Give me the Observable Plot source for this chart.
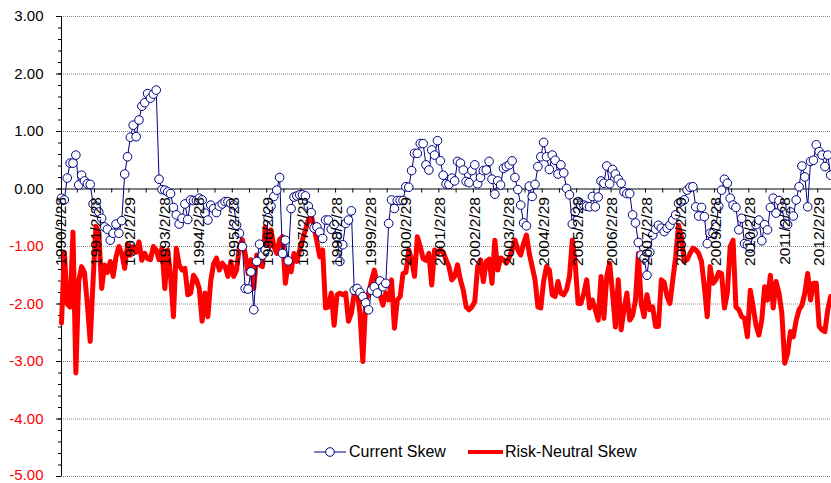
<!DOCTYPE html>
<html>
<head>
<meta charset="utf-8">
<script src="https://cdn.jsdelivr.net/npm/d3@7"></script>
<script src="https://cdn.jsdelivr.net/npm/@observablehq/plot@0.6"></script>
<style>
  html, body { margin: 0; padding: 0; background: #fff; }
  #wrap { position: relative; width: 831px; height: 483px; font-family: Arial, "Liberation Sans", sans-serif; }
  #wrap svg { display: block; }
  .lg { position: absolute; top: 442px; height: 19px; line-height: 19px; font-size: 16px; color: #000; white-space: nowrap; }
</style>
</head>
<body>
<div id="wrap"></div>
<script>
// Monthly observations, starting 1990/2/28
const currentSkew = [
  -0.16,-0.19,0.19,0.45,0.45,0.59,0.07,0.24,0.14,0.09,
  0.08,-0.26,-0.30,-0.40,-0.51,-0.66,-0.70,-0.89,-0.77,-0.61,
  -0.77,-0.55,0.26,0.56,0.90,1.11,0.91,1.20,1.44,1.50,
  1.66,1.58,1.65,1.72,0.17,-0.01,-0.02,-0.05,-0.08,-0.32,
  -0.45,-0.61,-0.51,-0.26,-0.53,-0.19,
  -0.20,-0.20,-0.16,-0.19,-0.42,-0.54,-0.28,-0.34,-0.41,-0.30,
  -0.26,-0.22,-0.22,-0.25,-0.28,-0.63,-0.77,-1.00,-1.73,-1.74,
  -1.44,-2.10,-1.26,-0.96,-1.15,-1.06,-0.50,-0.30,-0.13,-0.02,
  0.20,-1.12,-0.89,-1.25,-0.34,-0.14,-0.12,-0.10,-0.10,-0.12,
  -0.30,-0.41,-0.68,-0.66,
  -0.75,-0.86,-0.54,-0.54,-0.70,-0.62,-0.83,-1.26,-0.97,-0.60,
  -0.54,-0.38,-1.76,-1.73,-1.80,-1.87,-1.98,-2.10,-1.76,-1.70,
  -1.81,-1.60,-1.70,-1.64,-0.60,-0.19,-0.34,-0.20,-0.20,-0.20,
  0.04,0.03,0.32,0.62,0.62,0.79,0.79,0.42,0.33,0.68,
  0.59,0.84,0.49,0.24,0.09,0.08,
  0.19,0.14,0.48,0.45,0.33,0.13,0.11,0.32,0.42,0.09,
  0.20,0.32,0.33,0.48,0.17,-0.09,0.14,0.07,0.36,0.39,
  0.42,0.49,0.20,-0.01,-0.28,-0.59,-0.64,0.05,-0.13,0.08,
  0.39,0.56,0.81,0.56,0.34,0.59,0.50,0.26,0.42,0.28,
  0.01,-0.10,-0.61,-0.40,
  -0.22,-0.28,-0.28,-0.30,-0.31,-0.13,-0.31,-0.14,0.14,0.10,
  0.40,0.09,0.34,0.26,0.17,0.10,-0.05,-0.08,-0.08,-0.45,
  -0.59,-0.93,-1.15,-1.20,-1.50,-1.10,-0.80,-0.70,-0.63,-0.68,
  -0.74,-0.68,-0.63,-0.54,-0.45,-0.25,-0.22,-0.19,-0.02,0.03,
  0.04,-0.31,-0.47,-0.32,-0.48,-0.95,
  -0.77,-0.77,-0.66,-0.30,-0.02,0.17,0.10,-0.16,-0.28,-0.32,
  -0.71,-0.51,-0.95,-0.97,-1.03,-0.77,-0.62,-0.54,-0.90,-0.62,
  -0.71,-0.32,-0.16,-0.42,-0.20,-0.31,-0.60,-0.62,-0.40,-0.47,
  -0.19,0.04,0.40,0.21,-0.31,0.48,0.50,0.77,0.65,0.59,
  0.39,0.59,0.24
];

const riskNeutralSkew = [
  -2.33,-1.10,-2.00,-2.05,-0.75,-3.20,-1.60,-1.35,-1.45,-2.00,
  -2.65,-1.60,-0.65,-0.75,-1.73,-1.32,-1.45,-1.26,-1.52,-1.18,
  -1.00,-1.12,-1.38,-0.97,-1.15,-1.00,-1.10,-0.92,-1.24,-1.12,
  -1.21,-1.23,-1.00,-1.06,-1.23,-1.03,-1.73,-1.06,-1.50,-2.22,
  -1.03,-1.32,-1.41,-1.38,-1.84,
  -1.81,-1.50,-1.58,-1.73,-2.30,-1.81,-2.22,-1.60,-1.30,-1.20,
  -1.41,-1.29,-1.35,-1.52,-1.26,-1.52,-1.41,-1.00,-0.88,-1.12,
  -1.47,-1.23,-1.73,-1.15,-1.32,-1.35,-0.66,-1.06,-0.71,-1.00,
  -1.12,-0.88,-0.83,-1.64,-1.29,-1.44,-1.12,-1.26,-1.06,-0.88,
  -0.71,-0.54,-0.45,-0.66,-0.92,-1.18,
  -1.06,-2.07,-2.05,-1.81,-2.37,-1.84,-1.81,-1.84,-1.81,-2.30,
  -2.16,-1.81,-1.76,-2.16,-3.00,-1.95,-1.81,-1.60,-1.41,-1.64,
  -1.85,-2.02,-1.81,-1.93,-1.58,-2.42,-1.93,-1.87,-1.47,-1.45,
  -1.06,-1.23,-1.52,-0.83,-1.00,-1.21,-1.24,-1.12,-1.67,-1.06,
  -1.12,-1.06,-1.10,-1.23,-1.35,
  -1.58,-1.52,-1.32,-1.58,-1.76,-2.05,-2.10,-2.05,-1.96,-1.35,
  -1.23,-1.61,-1.26,-1.22,-1.64,-0.89,-1.41,-1.20,-1.23,-1.29,
  -1.20,-1.06,-0.89,-1.06,-1.15,-0.95,-0.80,-1.12,-1.35,-1.58,
  -2.05,-2.07,-1.60,-1.35,-1.41,-1.84,-1.87,-1.61,-1.81,-1.84,
  -1.75,-1.52,-0.89,-1.30,-1.99,
  -1.99,-1.81,-1.58,-2.07,-1.93,-2.10,-2.28,-1.52,-2.25,-1.52,
  -1.29,-1.81,-2.40,-1.58,-2.45,-2.10,-1.81,-2.28,-2.20,-1.93,
  -1.12,-2.00,-2.22,-1.84,-2.10,-2.05,-2.39,-2.39,
  -1.58,-1.62,-1.87,-1.99,-1.58,-1.18,-0.63,-0.83,-1.26,-1.23,
  -1.12,-1.03,-1.06,-1.12,-1.26,-1.70,-2.22,
  -1.35,-1.64,-1.58,-1.45,-1.47,-2.07,-1.81,-1.00,-0.89,-2.05,
  -2.10,-2.22,-2.25,-2.57,-1.76,-2.05,-2.37,-2.54,-2.28,-1.70,
  -1.93,-1.50,-2.07,-1.61,-1.81,-2.16,-3.03,-2.86,-2.48,-2.57,
  -2.28,-2.10,-2.02,-1.81,-1.47,-1.93,-1.64,-1.64,-2.39,-2.45,
  -2.48,-2.10,-1.87
];

const dateLabels = [
  "1990/2/28","1991/2/28","1992/2/29","1993/2/28","1994/2/28","1995/2/28",
  "1996/2/29","1997/2/28","1998/2/28","1999/2/28","2000/2/29","2001/2/28",
  "2002/2/28","2003/2/28","2004/2/29","2005/2/28","2006/2/28","2007/2/28",
  "2008/2/29","2009/2/28","2010/2/28","2011/2/28","2012/2/29"
];
const yTicks = [3, 2, 1, 0, -1, -2, -3, -4, -5];
const gridValues = [3, 2, 1, -1, -2, -3, -4, -5];
const legendNames = ["Current Skew", "Risk-Neutral Skew"];

const BLUE = "#000080", RED = "#FF0000";
const FONT = 'Arial, "Liberation Sans", sans-serif';

const cur = currentSkew.map((v, i) => ({m: i, v}));
const rn = riskNeutralSkew.map((v, i) => ({m: i, v}));
const labelPos = dateLabels.map((d, i) => ({m: i * 12, d}));
const monthTicks = d3.range(1, 45).map(k => 6 * k - 0.5);
const minorY = d3.range(-25, 16).map(k => k / 5);
const lastM = currentSkew.length - 1 + 0.3;
const yLabelColor = d => d < 0 ? RED : "#000";
const yFmt = d => d.toFixed(2);

const chart = Plot.plot({
  width: 831,
  height: 483,
  marginLeft: 61,
  marginRight: 0,
  marginTop: 16,
  marginBottom: 7,
  x: {domain: [0, lastM], axis: null},
  y: {domain: [-5, 3], axis: null},
  style: {fontFamily: FONT, background: "#fff", overflow: "visible"},
  marks: [
    Plot.ruleY(gridValues, {stroke: "#8a8a8a", strokeWidth: 1, strokeDasharray: "1,1"}),
    Plot.ruleY([0], {stroke: "#000", strokeWidth: 1}),
    Plot.ruleX(monthTicks, {x: d => d, y1: 0, y2: -0.07, stroke: "#000", strokeWidth: 1}),
    Plot.axisY({ticks: minorY, tickSize: 3, tickFormat: () => "", label: null, stroke: "#000"}),
    Plot.axisY({ticks: yTicks, tickSize: 5, tickFormat: () => "", label: null, stroke: "#000"}),
    Plot.ruleX([0], {stroke: "#000", strokeWidth: 1}),
    Plot.line(rn, {x: "m", y: "v", stroke: RED, strokeWidth: 5, strokeLinejoin: "round", strokeLinecap: "round"}),
    Plot.line(cur, {x: "m", y: "v", stroke: BLUE, strokeWidth: 1}),
    Plot.dot(cur, {x: "m", y: "v", r: 4.3, stroke: BLUE, fill: "#fff", strokeWidth: 1}),
    Plot.text(labelPos, {x: "m", y: 0, text: "d", rotate: -90, textAnchor: "end", dy: 8, fontSize: 15.5, fill: "#000"}),
    Plot.text(yTicks.filter(d => d > -5), {frameAnchor: "left", y: d => d, text: yFmt, textAnchor: "end", dx: -18, fontSize: 15, fill: yLabelColor}),
    Plot.text(yTicks.filter(d => d === -5), {frameAnchor: "left", y: d => d, text: yFmt, textAnchor: "end", dx: -18, dy: -1.5, fontSize: 15, fill: yLabelColor})
  ]
});

const wrap = document.getElementById("wrap");
wrap.appendChild(chart);

// Legend overlay (inside the plot area, as in the reference)
const lg1sw = document.createElement("div");
lg1sw.className = "lg";
lg1sw.style.left = "313px";
lg1sw.innerHTML = `<svg width="34" height="19" style="display:block"><line x1="1" y1="10" x2="33" y2="10" stroke="${BLUE}" stroke-width="1"/><circle cx="17" cy="10" r="4.3" fill="#fff" stroke="${BLUE}" stroke-width="1"/></svg>`;
wrap.appendChild(lg1sw);
const lg1 = document.createElement("div");
lg1.className = "lg";
lg1.style.left = "349px";
lg1.textContent = legendNames[0];
wrap.appendChild(lg1);
const lg2sw = document.createElement("div");
lg2sw.className = "lg";
lg2sw.style.left = "467px";
lg2sw.innerHTML = `<svg width="37" height="19" style="display:block"><line x1="1" y1="10" x2="36" y2="10" stroke="${RED}" stroke-width="4"/></svg>`;
wrap.appendChild(lg2sw);
const lg2 = document.createElement("div");
lg2.className = "lg";
lg2.style.left = "505px";
lg2.textContent = legendNames[1];
wrap.appendChild(lg2);
</script>
</body>
</html>
